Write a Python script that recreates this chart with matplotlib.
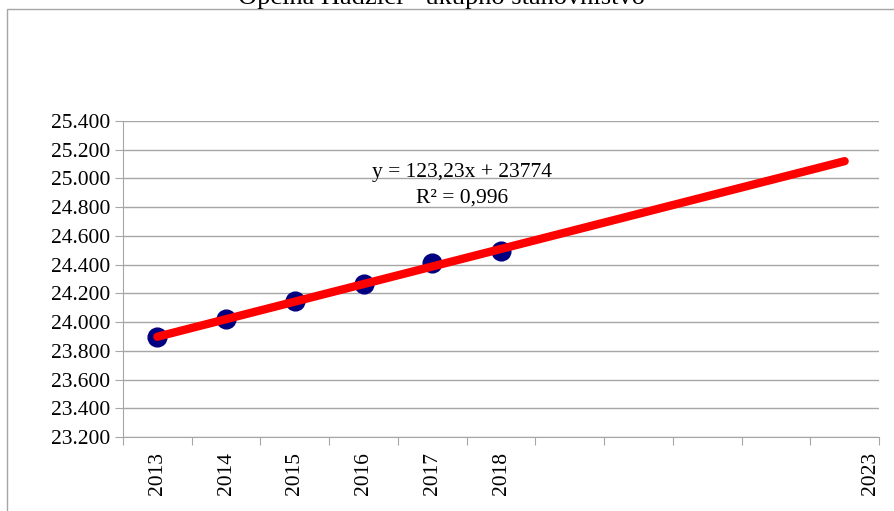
import numpy as np
import matplotlib
matplotlib.use("Agg")
import matplotlib.pyplot as plt
from matplotlib.patches import Rectangle

title = "Općina Hadžići - ukupno stanovništvo"
years = ["2013", "2014", "2015", "2016", "2017", "2018"]
population = [23894, 24019, 24146, 24262, 24408, 24493]
forecast_label = "2023"
n_categories = 11
equation_text = "y = 123,23x + 23774"
r2_text = "R² = 0,996"
y_min, y_max, y_step = 23200, 25400, 200

plt.rcParams['font.family'] = ['Liberation Serif', 'DejaVu Serif']

W, H = 894, 511
fig = plt.figure(figsize=(W / 100, H / 100), dpi=100)

left, right, top, bottom = 123, 879, 121, 437
ax = fig.add_axes([left / W, 1 - bottom / H, (right - left) / W, (bottom - top) / H])

# chart border
fig.patches.append(Rectangle((7 / W, -0.1), 1.0, 1 - 9 / H + 0.1, transform=fig.transFigure,
                             fill=False, edgecolor="#A6A6A6", linewidth=1.0))

x = np.arange(1, len(population) + 1)
cat = np.arange(len(population))

ax.plot(cat, population, "o", color="#000080", markersize=13.5, zorder=3)

# linear trend with forecast
coef = np.polyfit(x, population, 1)
xt = np.array([1, n_categories])
ax.plot(xt - 1, np.polyval(coef, xt), color="#FF0000", linewidth=6, solid_capstyle="round", zorder=4)

ax.set_xlim(-0.5, n_categories - 0.5)
ax.set_ylim(y_min, y_max)
ax.set_yticks(np.arange(y_min, y_max + 1, y_step))
ax.set_yticklabels([f"{v:,}".replace(",", ".") for v in range(y_min, y_max + 1, y_step)])
ax.grid(axis="y", color="#A6A6A6", linewidth=1.0)
ax.set_axisbelow(True)

ax.set_xticks(np.arange(-0.5, n_categories, 1.0))
ax.set_xticklabels([])
ax.set_xticks(list(cat) + [n_categories - 0.63], minor=True)
ax.set_xticklabels(years + [forecast_label], minor=True, rotation=90)
ax.tick_params(axis="x", which="minor", length=0, pad=11, labelsize=15.5)
ax.tick_params(axis="x", which="major", length=6, color="#A6A6A6")
ax.tick_params(axis="y", length=6, color="#A6A6A6", labelsize=15.5, pad=3)

for s in ["top", "right"]:
    ax.spines[s].set_visible(False)
for s in ["left", "bottom"]:
    ax.spines[s].set_color("#A6A6A6")

fig.text(462 / W, 1 - 173 / H, equation_text, ha="center", va="center", fontsize=15.5)
fig.text(462 / W, 1 - 198 / H, r2_text, ha="center", va="center", fontsize=15.5)

fig.text(441 / W, 1 - 4 / H, title, ha="center", va="baseline", fontsize=19)

fig.savefig("out.png", dpi=100)
